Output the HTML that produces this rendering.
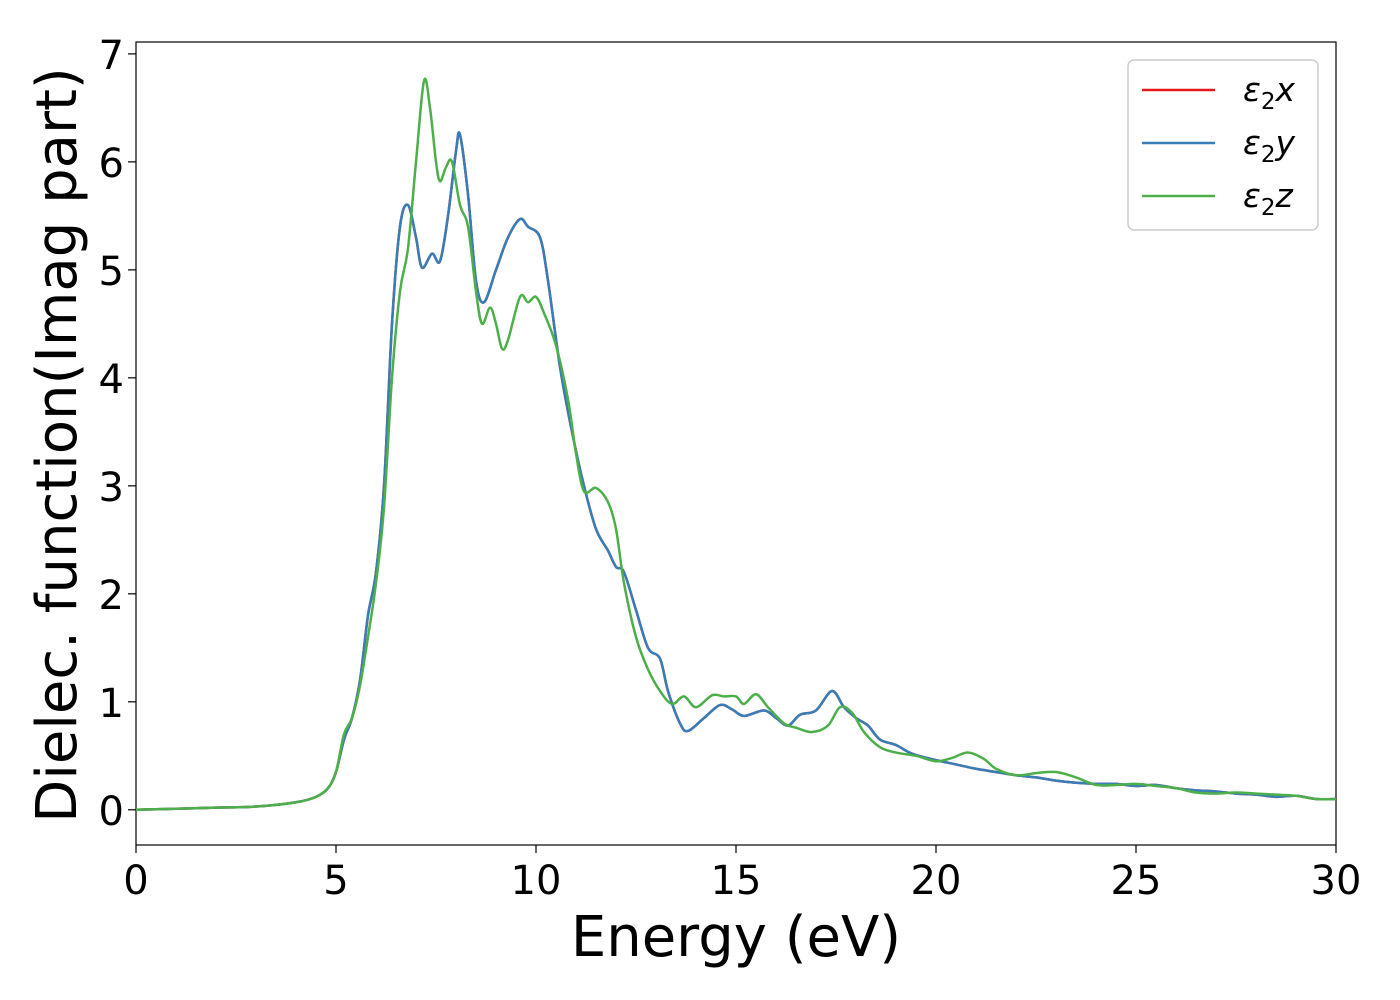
<!DOCTYPE html>
<html><head><meta charset="utf-8"><style>
body{margin:0;background:#fff;}
svg{display:block;font-family:"DejaVu Sans","Liberation Sans",sans-serif;}
</style></head><body>
<svg id="chart" width="1400" height="1000">
<g id="axes"></g>
<g id="series"></g>
<g id="legend">
 <rect x="1128" y="60" width="190" height="170" rx="6" fill="#fff" stroke="#ccc" stroke-width="1.5"/>
 <g><line x1="1142" y1="90" x2="1215" y2="90" stroke="#e41a1c" stroke-width="2.5"/><text x="1243" y="101" font-size="33" font-style="italic">ε<tspan font-size="23" dy="8" font-style="normal">2</tspan><tspan dy="-8">x</tspan></text></g>
 <g><line x1="1142" y1="143" x2="1215" y2="143" stroke="#377eb8" stroke-width="2.5"/><text x="1243" y="154" font-size="33" font-style="italic">ε<tspan font-size="23" dy="8" font-style="normal">2</tspan><tspan dy="-8">y</tspan></text></g>
 <g><line x1="1142" y1="196" x2="1215" y2="196" stroke="#4daf4a" stroke-width="2.5"/><text x="1243" y="207" font-size="33" font-style="italic">ε<tspan font-size="23" dy="8" font-style="normal">2</tspan><tspan dy="-8">z</tspan></text></g>
</g>
</svg>
<script>
const xTicks=[0,5,10,15,20,25,30];
const yTicks=[0,1,2,3,4,5,6,7];
const energyXY=[0,1,2,3,4,4.5,4.8,5.0,5.2,5.4,5.6,5.8,6.0,6.2,6.4,6.6,6.8,7.0,7.15,7.4,7.6,7.8,8.0,8.1,8.3,8.5,8.7,9.0,9.3,9.6,9.8,10.1,10.3,10.6,10.9,11.2,11.5,11.8,12.0,12.2,12.5,12.8,13.1,13.3,13.6,13.8,14.2,14.6,14.9,15.2,15.7,16.0,16.3,16.6,17.0,17.4,17.7,18.0,18.3,18.6,19.0,19.4,20.0,20.5,21.0,21.5,22,22.5,23,23.5,24,24.5,25,25.5,26,26.5,27,27.5,28,28.5,29,29.5,30];
const eps2xy=[0,0.01,0.02,0.03,0.07,0.12,0.2,0.35,0.65,0.85,1.2,1.8,2.2,3.0,4.5,5.4,5.6,5.3,5.02,5.15,5.08,5.5,6.1,6.25,5.7,4.9,4.7,5.0,5.3,5.47,5.4,5.3,4.9,4.1,3.5,3.0,2.6,2.4,2.25,2.2,1.85,1.5,1.4,1.1,0.8,0.73,0.85,0.97,0.93,0.87,0.92,0.85,0.78,0.88,0.92,1.1,0.95,0.85,0.78,0.65,0.6,0.52,0.46,0.42,0.38,0.35,0.32,0.3,0.27,0.25,0.24,0.24,0.22,0.23,0.2,0.18,0.17,0.15,0.14,0.12,0.13,0.1,0.1];
const energyZ=[0,1,2,3,4,4.5,4.8,5.0,5.2,5.4,5.6,5.8,6.0,6.2,6.4,6.6,6.8,7.0,7.2,7.35,7.5,7.6,7.75,7.9,8.1,8.3,8.5,8.65,8.85,9.0,9.15,9.3,9.6,9.8,10.0,10.2,10.5,10.8,11.0,11.2,11.5,11.8,12.0,12.2,12.5,12.8,13.1,13.4,13.7,14.0,14.4,14.7,15.0,15.2,15.5,15.8,16.2,16.5,16.9,17.3,17.6,17.9,18.2,18.6,19.0,19.5,20.0,20.4,20.8,21.2,21.5,22,22.5,23,23.5,24,24.5,25,25.5,26,26.5,27,27.5,28,28.5,29,29.5,30];
const eps2z=[0,0.01,0.02,0.03,0.07,0.12,0.2,0.35,0.7,0.85,1.15,1.6,2.1,2.8,4.0,4.8,5.2,6.0,6.75,6.5,6.0,5.82,5.95,6.0,5.6,5.4,4.8,4.5,4.65,4.5,4.27,4.35,4.75,4.7,4.75,4.6,4.3,3.8,3.3,2.95,2.98,2.85,2.6,2.1,1.6,1.3,1.1,0.98,1.05,0.95,1.06,1.05,1.05,0.98,1.07,0.95,0.8,0.76,0.72,0.78,0.95,0.9,0.72,0.58,0.53,0.5,0.45,0.48,0.53,0.47,0.38,0.32,0.34,0.35,0.3,0.23,0.23,0.24,0.22,0.2,0.16,0.15,0.16,0.15,0.14,0.13,0.1,0.1];

const L=136,R=1336,T=42,B=845;
const X0=0,X1=30,Y0=-0.326,Y1=7.11;
const sx=v=>L+(v-X0)/(X1-X0)*(R-L);
const sy=v=>B-(v-Y0)/(Y1-Y0)*(B-T);
const NS="http://www.w3.org/2000/svg";
function mk(tag,attrs,parent){const e=document.createElementNS(NS,tag);for(const k in attrs)e.setAttribute(k,attrs[k]);parent.appendChild(e);return e;}
const axes=document.getElementById('axes');
const frame=mk('rect',{x:L,y:T,width:R-L,height:B-T,fill:'none',stroke:'#000','stroke-width':1.2},axes);


xTicks.forEach(t=>{
 const ln=mk('line',{x1:sx(t),x2:sx(t),y1:B,y2:B+8,stroke:'#000','stroke-width':1.2},axes);
 
 
 const tx=mk('text',{x:sx(t),y:B+49,'font-size':40,'text-anchor':'middle'},axes);
 tx.textContent=t;
 
 
});
yTicks.forEach(t=>{
 const ln=mk('line',{x1:L-8,x2:L,y1:sy(t),y2:sy(t),stroke:'#000','stroke-width':1.2},axes);
 
 
 const tx=mk('text',{x:L-12,y:sy(t)+15,'font-size':40,'text-anchor':'end'},axes);
 tx.textContent=t;
 
 
});
const xl=mk('text',{x:736,y:956,'font-size':56,'text-anchor':'middle'},axes);
xl.textContent='Energy (eV)';


const yl=mk('text',{x:0,y:0,'font-size':56,'text-anchor':'middle',transform:'translate(76,445) rotate(-90)'},axes);
yl.textContent='Dielec. function(Imag part)';



function smoothPath(xs,ys){
 const p=xs.map((x,i)=>[sx(x),sy(ys[i])]);
 let d='M'+p[0][0]+','+p[0][1];
 for(let i=0;i<p.length-1;i++){
  const p0=p[i-1]||p[i],p1=p[i],p2=p[i+1],p3=p[i+2]||p2;
  const c1=[p1[0]+(p2[0]-p0[0])/6,p1[1]+(p2[1]-p0[1])/6];
  const c2=[p2[0]-(p3[0]-p1[0])/6,p2[1]-(p3[1]-p1[1])/6];
  d+=' C'+c1+' '+c2+' '+p2;
 }
 return d;
}
const sg=document.getElementById('series');
const cp=mk('clipPath',{id:'clip'},sg);mk('rect',{x:L,y:T,width:R-L,height:B-T},cp);
const sx_=mk('path',{d:smoothPath(energyXY,eps2xy),fill:'none',stroke:'#e41a1c','stroke-width':2.5,'clip-path':'url(#clip)'},sg);


const sy_=mk('path',{d:smoothPath(energyXY,eps2xy),fill:'none',stroke:'#377eb8','stroke-width':2.5,'clip-path':'url(#clip)'},sg);


const sz_=mk('path',{d:smoothPath(energyZ,eps2z),fill:'none',stroke:'#4daf4a','stroke-width':2.5,'clip-path':'url(#clip)'},sg);


</script>
</body></html>
